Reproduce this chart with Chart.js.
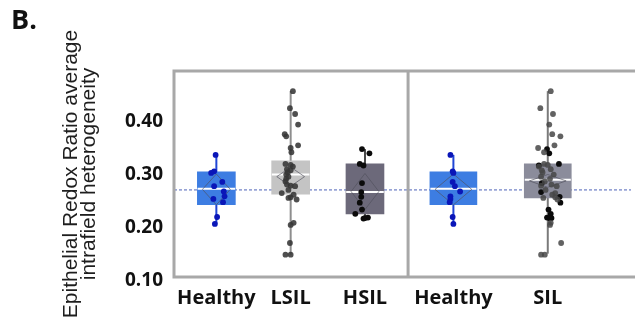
<!DOCTYPE html>
<html><head><meta charset="utf-8">
<script src="https://cdn.jsdelivr.net/npm/chart.js@4"></script>
<style>html,body{margin:0;padding:0;background:#fff}#wrap{width:635px;height:333px}</style>
</head><body><div id="wrap"><canvas id="c" width="635" height="333"></canvas></div>
<script>
// ---------- data ----------
const categories = ['Healthy', 'LSIL', 'HSIL', 'Healthy', 'SIL'];
const yTickValues = [0.10, 0.20, 0.30, 0.40];
const referenceLine = 0.271;
// box stats: [whiskerLow, q1, median, q3, whiskerHigh]
const healthyStats = [0.207, 0.243, 0.273, 0.305, 0.337];
const lsilStats    = [0.149, 0.263, 0.300, 0.326, 0.457];
const hsilStats    = [0.219, 0.226, 0.267, 0.320, 0.348];
const silStats     = [0.151, 0.256, 0.290, 0.320, 0.457];
// mean diamonds: [mean, half-height]
const healthyMean = [0.272, 0.029];
const lsilMean    = [0.296, 0.018];
const hsilMean    = [0.268, 0.034];
const silMean     = [0.288, 0.012];
// individual observations
const healthyValues = [0.337, 0.306, 0.303, 0.286, 0.278, 0.268, 0.259, 0.254, 0.248, 0.220, 0.207];
const lsilValues = [0.457, 0.425, 0.414, 0.394, 0.376, 0.372, 0.355, 0.350, 0.342, 0.320, 0.318,
  0.315, 0.310, 0.308, 0.304, 0.300, 0.296, 0.292, 0.287, 0.281, 0.279, 0.278, 0.271, 0.265,
  0.262, 0.257, 0.256, 0.253, 0.209, 0.205, 0.171, 0.149, 0.149];
const hsilValues = [0.348, 0.340, 0.320, 0.317, 0.284, 0.267, 0.258, 0.247, 0.234, 0.226, 0.219, 0.218, 0.217];
// horizontal jitter of the dots (category units)
const healthyJitterLeft  = [-0.01, -0.03, -0.07, 0.08, -0.03, 0.10, 0.11, -0.04, 0.09, 0.01, -0.02];
const healthyJitterRight = [-0.04, -0.01, 0.00, -0.01, 0.02, 0.09, -0.04, -0.04, -0.05, -0.01, 0.00];
const lsilJitter = [0.03, -0.01, 0.06, 0.10, -0.08, -0.06, 0.10, 0.00, 0.01, -0.07, 0.00,
  0.03, -0.05, 0.00, -0.04, -0.06, -0.03, -0.06, -0.07, -0.05, 0.00, 0.06, -0.03, -0.12,
  0.04, 0.00, -0.03, 0.08, 0.04, 0.00, -0.01, -0.07, 0.00];
const hsilJitter = [-0.04, 0.06, -0.07, -0.02, -0.04, -0.05, -0.05, -0.07, -0.04, -0.13, 0.04, 0.00, -0.02];
const silLsilJitter = [0.04, -0.10, 0.07, 0.02, 0.06, 0.17, 0.09, -0.13, -0.05, -0.05, 0.00,
  -0.12, 0.04, -0.08, -0.07, 0.08, -0.09, 0.03, -0.04, 0.05, -0.09, 0.12, -0.03, 0.10,
  0.06, 0.10, -0.06, 0.13, 0.04, 0.03, 0.18, -0.09, -0.04];
const silHsilJitter = [-0.01, 0.02, 0.15, -0.12, -0.08, -0.09, 0.16, 0.17, 0.01, 0.04, -0.01, 0.05, 0.03];

// ---------- layout (x positions in axis units) ----------
const xPos = [0.57, 1.57, 2.57, 3.76, 5.03];
const dividerX = 3.15;
const xMax = 6.15;
const FONT = "'Open Sans', 'Noto Sans', sans-serif";

const groups = [
  {pos: xPos[0], stats: healthyStats, mean: healthyMean, wide: false, box: '#3d7de2', whisker: '#2046d6',
   dots: [{v: healthyValues, j: healthyJitterLeft, c: '#0a16b8'}]},
  {pos: xPos[1], stats: lsilStats, mean: lsilMean, wide: false, box: '#c4c4c4', whisker: '#8e8e8e',
   dots: [{v: lsilValues, j: lsilJitter, c: 'rgba(55,55,55,0.88)'}]},
  {pos: xPos[2], stats: hsilStats, mean: hsilMean, wide: false, box: '#6c697a', whisker: '#4a4a4a',
   dots: [{v: hsilValues, j: hsilJitter, c: '#0b0b0b'}]},
  {pos: xPos[3], stats: healthyStats, mean: healthyMean, wide: true, box: '#3d7de2', whisker: '#2046d6',
   dots: [{v: healthyValues, j: healthyJitterRight, c: '#0a16b8'}]},
  {pos: xPos[4], stats: silStats, mean: silMean, wide: true, box: '#8b8c9b', whisker: '#7a7a7a',
   dots: [{v: lsilValues, j: silLsilJitter, c: 'rgba(70,70,70,0.85)'}, {v: hsilValues, j: silHsilJitter, c: '#0b0b0b'}]}
];

const datasets = [];
// reference line
datasets.push({type: 'line', data: [{x: 0, y: referenceLine}, {x: xMax, y: referenceLine}],
  borderColor: '#4d62b8', borderWidth: 1, borderDash: [3, 2], pointRadius: 0, order: 10});
// whiskers
groups.forEach(g => datasets.push({type: 'line', data: [{x: g.pos, y: g.stats[0]}, {x: g.pos, y: g.stats[4]}],
  borderColor: g.whisker, borderWidth: 2, pointRadius: 0, order: 9}));
// boxes
[false, true].forEach(w => {
  const gs = groups.filter(g => g.wide === w);
  datasets.push({type: 'bar', grouped: false, barThickness: w ? 47 : 38,
    data: gs.map(g => ({x: g.pos, y: [g.stats[1], g.stats[3]]})),
    backgroundColor: gs.map(g => g.box), borderWidth: 0, order: 8});
});
// medians
groups.forEach(g => {
  const hw = g.wide ? 0.31 : 0.253;
  datasets.push({type: 'line', data: [{x: g.pos - hw, y: g.stats[2]}, {x: g.pos + hw, y: g.stats[2]}],
    borderColor: '#ffffff', borderWidth: 2, pointRadius: 0, order: 7});
});
// mean diamonds
groups.forEach(g => {
  const dw = g.wide ? 0.247 : 0.187;
  const [m, h] = g.mean;
  datasets.push({type: 'line', data: [{x: g.pos - dw, y: m}, {x: g.pos, y: m + h}, {x: g.pos + dw, y: m},
    {x: g.pos, y: m - h}, {x: g.pos - dw, y: m}],
    borderColor: 'rgba(80,80,92,0.65)', borderWidth: 1, pointRadius: 0, order: 6});
});
// dots
groups.forEach(g => g.dots.forEach(d => {
  datasets.push({type: 'line', showLine: false, data: d.v.map((v, i) => ({x: g.pos + d.j[i], y: v})),
    pointRadius: 2.9, pointBorderWidth: 0, pointBackgroundColor: d.c, borderColor: d.c, order: 0});
}));

const framePlugin = {
  id: 'frame',
  afterDraw(chart) {
    const {ctx, chartArea: a, scales: {x}} = chart;
    ctx.save();
    ctx.strokeStyle = '#a8a8a8';
    ctx.lineWidth = 3;
    ctx.strokeRect(a.left, a.top, a.right - a.left + 10, a.bottom - a.top);
    const dx = x.getPixelForValue(dividerX);
    ctx.beginPath(); ctx.moveTo(dx, a.top); ctx.lineTo(dx, a.bottom); ctx.stroke();
    ctx.restore();
  }
};

new Chart(document.getElementById('c'), {
  type: 'bar',
  data: {datasets},
  options: {
    responsive: false, animation: false, devicePixelRatio: 1,
    layout: {padding: {left: 11, right: 0, top: 0, bottom: 0}},
    plugins: {
      legend: {display: false}, tooltip: {enabled: false},
      title: {display: true, text: 'B.', align: 'start', color: '#111',
        font: {family: FONT, size: 27, weight: 'bold', lineHeight: 1.2}, padding: {top: 5.3, bottom: 33.3}}
    },
    scales: {
      x: {type: 'linear', min: 0, max: xMax, offset: false,
        grid: {display: false, drawTicks: false}, border: {display: false},
        afterBuildTicks: s => { s.ticks = xPos.map(v => ({value: v})); },
        afterFit: s => { s.height = 56; },
        ticks: {autoSkip: false, maxRotation: 0, padding: 9, color: '#111',
          font: {family: FONT, size: 20, weight: 'bold'},
          callback: (v, i) => categories[i]}
      },
      y: {type: 'linear', min: 0.107, max: 0.495,
        grid: {display: false, drawTicks: false}, border: {display: false},
        afterBuildTicks: s => { s.ticks = yTickValues.map(v => ({value: v})); },
        afterFit: s => { s.width = 163; },
        ticks: {autoSkip: false, padding: 11, color: '#111',
          font: {family: FONT, size: 19, weight: 'bold'},
          callback: v => v.toFixed(2)},
        title: {display: true, text: ['Epithelial Redox Ratio average', 'intrafield heterogeneity'],
          color: '#1e1e1e', padding: {top: 50.75, bottom: 0},
          font: {family: "'Liberation Sans', Arial, sans-serif", size: 21, lineHeight: 0.88}}
      }
    }
  },
  plugins: [framePlugin]
});
</script>
</body></html>
